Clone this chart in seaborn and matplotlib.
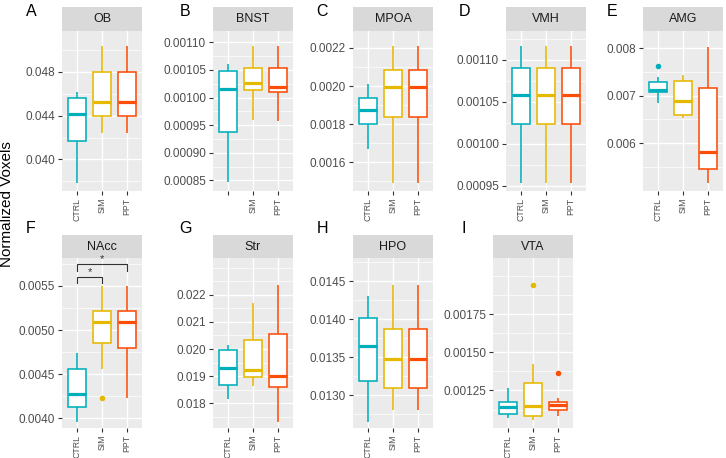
import numpy as np
import pandas as pd
import seaborn as sns
import matplotlib.pyplot as plt

plt.rcParams['font.family'] = ['Liberation Sans', 'DejaVu Sans']

groups = ["CTRL", "SIM", "PPT"]
colors = ["#00AFBB", "#E7B800", "#FC4E07"]
regions = ["OB", "BNST", "MPOA", "VMH", "AMG", "NAcc", "Str", "HPO", "VTA"]
letters = ["A", "B", "C", "D", "E", "F", "G", "H", "I"]

# box summaries: [whisker low, q1, median, q3, whisker high]
OB = [[0.03788, 0.04172, 0.04413, 0.04559, 0.04619],
      [0.04245, 0.04400, 0.04528, 0.04800, 0.05036],
      [0.04245, 0.04400, 0.04528, 0.04800, 0.05036]]
BNST = [[0.0008464, 0.0009375, 0.0010163, 0.0010482, 0.0010604],
        [0.0009590, 0.0010139, 0.0010260, 0.0010531, 0.0010934],
        [0.0009584, 0.0010108, 0.0010199, 0.0010531, 0.0010934]]
MPOA = [[0.0016693, 0.0017990, 0.0018740, 0.0019354, 0.0020089],
        [0.0014924, 0.0018389, 0.0019932, 0.0020824, 0.0022100],
        [0.0014924, 0.0018389, 0.0019932, 0.0020824, 0.0022100]]
VMH = [[0.0009534, 0.0010230, 0.0010585, 0.0010906, 0.0011165],
       [0.0009534, 0.0010230, 0.0010580, 0.0010906, 0.0011165],
       [0.0009534, 0.0010230, 0.0010580, 0.0010906, 0.0011165]]
AMG = [[0.006840, 0.007072, 0.007120, 0.007282, 0.007400],
       [0.006524, 0.006594, 0.006895, 0.007316, 0.007436],
       [0.005169, 0.005451, 0.005821, 0.007168, 0.008031]]
NAcc = [[0.003960, 0.004130, 0.004271, 0.004558, 0.004736],
        [0.004558, 0.004857, 0.005095, 0.005215, 0.005499],
        [0.004225, 0.004792, 0.005095, 0.005215, 0.005499]]
Str = [[0.018144, 0.018672, 0.019288, 0.019963, 0.020148],
       [0.018646, 0.018978, 0.019225, 0.020332, 0.021686],
       [0.017317, 0.018609, 0.019015, 0.020542, 0.022362]]
HPO = [[0.012649, 0.013188, 0.013649, 0.014017, 0.014303],
       [0.012803, 0.013088, 0.013474, 0.013868, 0.014447],
       [0.012803, 0.013088, 0.013474, 0.013868, 0.014447]]
VTA = [[0.0010720, 0.0010962, 0.0011440, 0.0011767, 0.0012644],
       [0.0010569, 0.0010831, 0.0011505, 0.0012991, 0.0014215],
       [0.0010831, 0.0011224, 0.0011551, 0.0011767, 0.0012029]]
box_data = [OB, BNST, MPOA, VMH, AMG, NAcc, Str, HPO, VTA]

outliers = {("AMG", "CTRL"): 0.00762, ("NAcc", "SIM"): 0.004225,
            ("VTA", "SIM"): 0.0019405, ("VTA", "PPT"): 0.0013665}

# y axis ticks (and decimals) for each panel
yticks = {"OB": ([0.040, 0.044, 0.048], 3),
          "BNST": ([0.00085, 0.00090, 0.00095, 0.00100, 0.00105, 0.00110], 5),
          "MPOA": ([0.0016, 0.0018, 0.0020, 0.0022], 4),
          "VMH": ([0.00095, 0.00100, 0.00105, 0.00110], 5),
          "AMG": ([0.006, 0.007, 0.008], 3),
          "NAcc": ([0.0040, 0.0045, 0.0050, 0.0055], 4),
          "Str": ([0.018, 0.019, 0.020, 0.021, 0.022], 3),
          "HPO": ([0.0130, 0.0135, 0.0140, 0.0145], 4),
          "VTA": ([0.00125, 0.00150, 0.00175], 5)}
ylims = {"OB": (0.037125, 0.051727), "BNST": (0.000831, 0.0011205),
         "MPOA": (0.0014489, 0.0022887), "VMH": (0.0009435, 0.0011343),
         "AMG": (0.004994, 0.008362), "NAcc": (0.0038887, 0.0058165),
         "Str": (0.017085, 0.023358), "HPO": (0.012566, 0.014803),
         "VTA": (0.0010045, 0.0021172)}
# the BNST panel shows no CTRL label
xlabels = {"BNST": ["", "SIM", "PPT"]}

W, H = 726, 458
# plot area in pixels: x0, x1, strip top, plot top, plot bottom
panel_px = [(62, 142, 7, 31, 191), (213, 293, 7, 31, 191), (353, 433, 7, 31, 191),
            (506, 586, 7, 31, 191), (643, 723, 7, 31, 191),
            (62, 142, 235, 258, 428), (213, 293, 235, 258, 428), (353, 433, 235, 258, 428),
            (493, 573, 235, 258, 428)]
letter_px = [(31, 12), (185, 12), (322, 12), (464, 12), (612, 12),
             (31, 228), (185, 228), (322, 228), (464, 228)]

fig = plt.figure(figsize=(W / 100, H / 100), dpi=100)


def rect(x0, x1, y0, y1):
    return [x0 / W, 1 - y1 / H, (x1 - x0) / W, (y1 - y0) / H]


for name, boxes, letter, (x0, x1, st, pt, pb), (lx, ly) in zip(regions, box_data, letters, panel_px, letter_px):
    rows = []
    for g, s in zip(groups, boxes):
        lo, q1, med, q3, hi = s
        vals = [lo, lo, q1, q1, med, q3, q3, hi, hi]
        out = outliers.get((name, g))
        if out is not None:
            if out < lo:
                vals[0] = out
            else:
                vals[-1] = out
        rows += [(g, v) for v in vals]
    df = pd.DataFrame(rows, columns=["group", "value"])

    # strip on top of the panel
    sax = fig.add_axes(rect(x0, x1, st, pt))
    sax.set_zorder(0)
    sax.set_facecolor("#D9D9D9")
    sax.set_xticks([])
    sax.set_yticks([])
    for sp in sax.spines.values():
        sp.set_visible(False)
    sax.text(0.5, 0.5, name, ha="center", va="center", fontsize=9, color="#1A1A1A")

    ax = fig.add_axes(rect(x0, x1, pt, pb))
    ax.set_zorder(1)
    sns.boxplot(data=df, x="group", y="value", hue="group", order=groups, hue_order=groups,
                palette=colors, width=0.75, linewidth=1.15, showcaps=False, legend=False, ax=ax,
                flierprops=dict(marker="o", markersize=4, markeredgewidth=0))
    for cont, col in zip(ax.containers, colors):
        for b in cont.boxes:
            b.set_facecolor("white")
            b.set_edgecolor(col)
        for l in cont.whiskers:
            l.set_color(col)
        for l in cont.medians:
            l.set_color(col)
            l.set_linewidth(2.3)
        for f in cont.fliers:
            f.set_markerfacecolor(col)
            f.set_markeredgecolor(col)

    ticks, dec = yticks[name]
    lo_lim, hi_lim = ylims[name]
    step = ticks[1] - ticks[0]
    ext = [ticks[0] - step] + ticks + [ticks[-1] + step]
    minors = ext + [(a + b) / 2 for a, b in zip(ext[:-1], ext[1:])]
    minors = [m for m in minors if lo_lim < m < hi_lim and min(abs(m - t) for t in ticks) > step / 10]

    ax.set_xlim(-0.6, 2.6)
    ax.set_ylim(lo_lim, hi_lim)
    ax.set_xticks(range(len(groups)))
    ax.set_xticklabels(xlabels.get(name, groups))
    ax.set_yticks(ticks)
    ax.set_yticklabels([f"{t:.{dec}f}" for t in ticks])
    ax.set_yticks(minors, minor=True)
    ax.set_facecolor("#EBEBEB")
    ax.set_axisbelow(True)
    ax.grid(which="major", color="white", lw=1.0)
    ax.grid(which="minor", axis="y", color="white", lw=0.5)
    ax.tick_params(which="minor", length=0)
    ax.tick_params(which="major", length=3, width=0.8, color="#333333", pad=2)
    ax.tick_params(axis="y", labelsize=8.5, labelcolor="#4D4D4D")
    ax.tick_params(axis="x", labelsize=6.3, labelcolor="#4D4D4D", labelrotation=90)
    ax.set_xlabel("")
    ax.set_ylabel("")
    for sp in ax.spines.values():
        sp.set_visible(False)

    fig.text(lx / W, 1 - ly / H, letter, ha="center", va="center", fontsize=11.5)

    if name == "NAcc":
        # significance brackets
        for (a, b), yb, yt, ys in [((0, 1), 0.005530, 0.005604, 0.005661),
                                   ((0, 2), 0.005672, 0.005745, 0.005805)]:
            ax.plot([a, a, b, b], [yb, yt, yt, yb], color="#333333", lw=0.8, clip_on=False)
            ax.text((a + b) / 2, ys, "*", ha="center", va="center", fontsize=8,
                    color="#333333", clip_on=False)

fig.text(7 / W, 1 - 204 / H, "Normalized Voxels", rotation=90, ha="center", va="center", fontsize=11)

fig.savefig("out.png", dpi=100)
